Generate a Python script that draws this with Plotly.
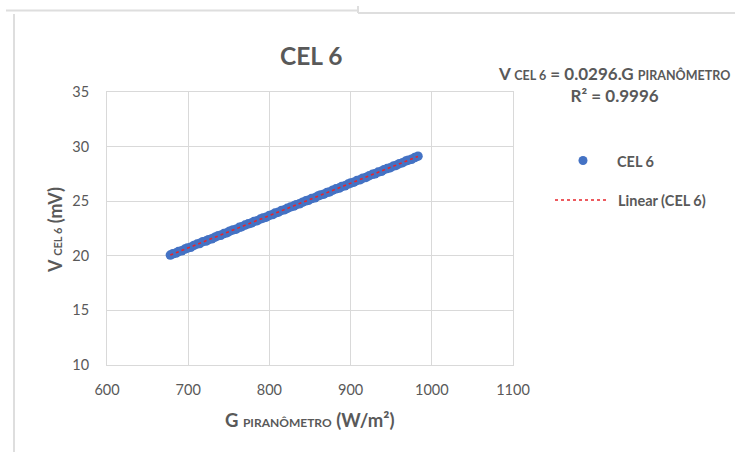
import numpy as np
import plotly.graph_objects as go

# Data
g_piranometro = [678, 681, 685, 688, 692, 696, 699, 703, 707, 711, 714, 718, 722, 725, 729,
                 733, 737, 740, 744, 748, 751, 755, 759, 763, 766, 770, 774, 778, 781, 785,
                 789, 792, 796, 800, 804, 807, 811, 815, 819, 822, 826, 830, 833, 837, 841,
                 845, 848, 852, 856, 860, 863, 867, 871, 874, 878, 882, 886, 889, 893, 897,
                 900, 904, 908, 912, 915, 919, 923, 927, 930, 934, 938, 941, 945, 949, 953,
                 956, 960, 964, 968, 971, 975, 979, 983]
v_cel6 = [20.07, 20.18, 20.25, 20.39, 20.46, 20.62, 20.71, 20.78, 20.95, 21.08, 21.12, 21.29,
          21.35, 21.48, 21.55, 21.71, 21.84, 21.88, 22.04, 22.12, 22.25, 22.37, 22.44, 22.61,
          22.66, 22.81, 22.93, 23.01, 23.14, 23.22, 23.37, 23.46, 23.54, 23.70, 23.78, 23.91,
          23.99, 24.15, 24.22, 24.35, 24.47, 24.55, 24.68, 24.76, 24.91, 25.03, 25.08, 25.24,
          25.31, 25.48, 25.57, 25.64, 25.80, 25.85, 26.01, 26.13, 26.20, 26.34, 26.41, 26.57,
          26.66, 26.74, 26.90, 26.97, 27.11, 27.18, 27.34, 27.46, 27.51, 27.67, 27.74, 27.88,
          27.99, 28.07, 28.23, 28.27, 28.44, 28.52, 28.68, 28.76, 28.84, 29.00, 29.12]
x_ticks = [600, 700, 800, 900, 1000, 1100]
y_ticks = [10, 15, 20, 25, 30, 35]
series_name = "CEL 6"
trend_name = "Linear (CEL 6)"
equation_text = ("<b>V <span style='font-size:12.5px'>CEL 6</span> = 0.0296.G "
                 "<span style='font-size:12.5px'>PIRANÔMETRO</span><br>R² = 0.9996</b>")

# Linear trendline through origin
gx = np.array(g_piranometro, dtype=float)
vy = np.array(v_cel6, dtype=float)
slope = float((gx * vy).sum() / (gx * gx).sum())
trend_x = [gx.min(), gx.max()]
trend_y = [slope * t for t in trend_x]

FONT = "Lato, 'Open Sans', sans-serif"
GRAY = "#595959"
GRID = "#d9d9d9"

W, H = 735, 452
ML, MR, MT, MB = 107, 222, 92, 87
PW, PH = W - ML - MR, H - MT - MB


def px(x):
    return (x - ML) / PW


def py(y):
    return (H - MB - y) / PH


fig = go.Figure()
fig.add_trace(go.Scatter(
    x=g_piranometro, y=v_cel6, mode="markers", name=series_name,
    marker=dict(color="#4472C4", size=9.5, line=dict(width=0)), showlegend=False))
fig.add_trace(go.Scatter(
    x=trend_x, y=trend_y, mode="lines", name=trend_name,
    line=dict(color="#E8242B", width=1.6, dash="dot"), showlegend=False))

axis_common = dict(showgrid=True, gridcolor=GRID, gridwidth=1, zeroline=False,
                   showline=True, linecolor=GRID, linewidth=1, mirror=True,
                   ticks="", tickfont=dict(family=FONT, size=14.5, color=GRAY))
fig.update_xaxes(range=[600, 1100], tickvals=x_ticks, ticklabelstandoff=12, **axis_common)
fig.update_yaxes(range=[10, 35], tickvals=y_ticks, ticklabelstandoff=14, **axis_common)

annotations = [
    dict(text="<b>CEL 6</b>", x=px(311), y=py(55), font=dict(size=24.5, color=GRAY, family=FONT)),
    dict(text=equation_text, x=px(614), y=py(84), align="center",
         font=dict(size=17, color=GRAY, family=FONT)),
    dict(text="<b>V <span style='font-size:11px'>CEL 6</span> (mV)</b>", x=px(55), y=py(230),
         textangle=-90, font=dict(size=18, color=GRAY, family=FONT)),
    dict(text="<b>G <span style='font-size:12px'>PIRANÔMETRO</span> (W/m²)</b>", x=px(310), y=py(420),
         font=dict(size=18.5, color=GRAY, family=FONT)),
    dict(text="<b>" + series_name + "</b>", x=px(615), y=py(161), xanchor="left",
         font=dict(size=14.5, color=GRAY, family=FONT)),
    dict(text="<b>" + trend_name + "</b>", x=px(616), y=py(200), xanchor="left",
         font=dict(size=14.5, color=GRAY, family=FONT)),
]
for a in annotations:
    a.setdefault("xanchor", "center")
    a.update(xref="paper", yref="paper", yanchor="middle", showarrow=False)

frame = dict(color="#dedede", width=2)
shapes = [
    dict(type="line", x0=px(6), x1=px(358), y0=py(10.5), y1=py(10.5), line=frame),
    dict(type="line", x0=px(358), x1=px(740), y0=py(13), y1=py(13), line=frame),
    dict(type="line", x0=px(358), x1=px(358), y0=py(6), y1=py(13), line=frame),
    dict(type="line", x0=px(14), x1=px(14), y0=py(14), y1=py(460), line=frame),
    dict(type="circle", x0=px(578.5), x1=px(587.5), y0=py(156), y1=py(165),
         fillcolor="#4472C4", line=dict(width=0)),
    dict(type="line", x0=px(555), x1=px(607), y0=py(200), y1=py(200),
         line=dict(color="#E8242B", width=1.6, dash="dot")),
]
for s in shapes:
    s.update(xref="paper", yref="paper")

fig.update_layout(
    width=W, height=H, margin=dict(l=ML, r=MR, t=MT, b=MB),
    paper_bgcolor="white", plot_bgcolor="white", showlegend=False,
    annotations=annotations, shapes=shapes,
    font=dict(family=FONT, color=GRAY),
)
fig.write_html("out.html")
